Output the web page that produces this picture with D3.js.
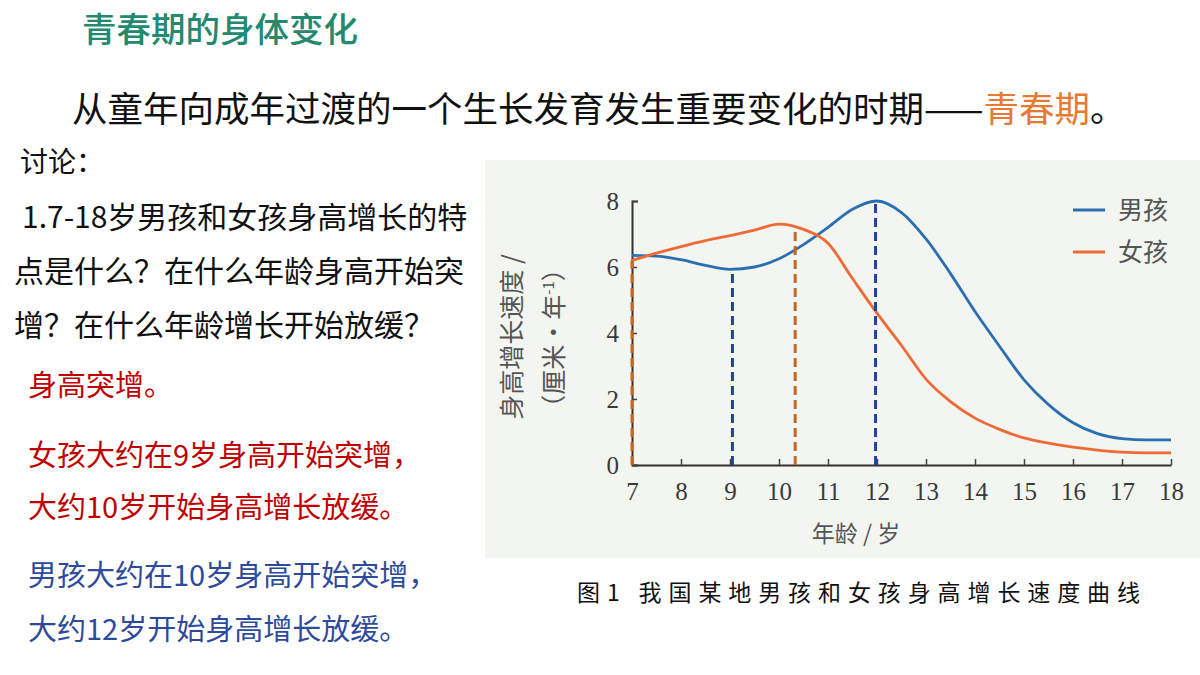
<!DOCTYPE html>
<html>
<head>
<meta charset="utf-8">
<script src="https://cdn.jsdelivr.net/npm/d3@7"></script>
<style>
  html, body { margin: 0; padding: 0; background: #fff; }
  svg { display: block; }
</style>
</head>
<body>
<svg width="1200" height="675"></svg>
<script>
// ages on the x axis
const AGES = [7, 7.5, 8, 8.5, 9, 9.5, 10, 10.5, 11, 11.5, 12, 12.5, 13, 13.5, 14, 14.5, 15, 15.5, 16, 16.5, 17, 17.5, 18];
// height growth speed (cm / year)
const BOYS = [6.35, 6.33, 6.22, 6.05, 5.93, 6.0, 6.25, 6.68, 7.2, 7.75, 8.0, 7.65, 6.85, 5.8, 4.65, 3.6, 2.58, 1.83, 1.28, 0.95, 0.8, 0.76, 0.76];
const GIRLS = [6.2, 6.42, 6.62, 6.8, 6.95, 7.12, 7.3, 7.14, 6.72, 5.65, 4.6, 3.62, 2.6, 1.92, 1.42, 1.08, 0.82, 0.66, 0.54, 0.45, 0.39, 0.37, 0.37];
const X_TICKS = [7, 8, 9, 10, 11, 12, 13, 14, 15, 16, 17, 18];
const Y_TICKS = [0, 2, 4, 6, 8];
const SERIES_NAMES = ['男孩', '女孩'];
// dashed guide lines: [series, age, value]
const GUIDES = [
  ['女孩', 7.0, 6.2],
  ['男孩', 9.05, 5.9],
  ['女孩', 10.33, 7.08],
  ['男孩', 11.97, 7.98]
];

const BLUE = '#2b6fb3';
const ORANGE = '#ee6a36';
const GUIDE_COLOR = { '男孩': '#23439b', '女孩': '#c8661f' };
const CJK = '"Noto Sans CJK SC", sans-serif';

const svg = d3.select('svg');

// ---- slide text ----
svg.append('text')
  .attr('x', 82).attr('y', 42)
  .attr('font-family', CJK).attr('font-size', 34.5).attr('font-weight', 500)
  .attr('fill', '#23896f')
  .text('青春期的身体变化');

const intro = svg.append('text')
  .attr('x', 72).attr('y', 122)
  .attr('font-family', CJK).attr('font-size', 35.5)
  .attr('fill', '#111');
intro.append('tspan').text('从童年向成年过渡的一个生长发育发生重要变化的时期——');
intro.append('tspan').attr('fill', '#e57a30').text('青春期');
intro.append('tspan').text('。');

const question = [
  { t: '讨论：', x: 20, y: 172, s: 28 },
  { t: '1.7-18岁男孩和女孩身高增长的特', x: 22, y: 228, s: 30 },
  { t: '点是什么？在什么年龄身高开始突', x: 14, y: 282, s: 30 },
  { t: '增？在什么年龄增长开始放缓？', x: 14, y: 336, s: 30 }
];
svg.selectAll('text.q').data(question).join('text')
  .attr('class', 'q')
  .attr('x', d => d.x).attr('y', d => d.y)
  .attr('font-family', CJK).attr('font-size', d => d.s)
  .attr('fill', '#111')
  .text(d => d.t);

const answers = [
  { t: '身高突增。', y: 396, c: '#c00000' },
  { t: '女孩大约在9岁身高开始突增，', y: 466, c: '#c00000' },
  { t: '大约10岁开始身高增长放缓。', y: 518, c: '#c00000' },
  { t: '男孩大约在10岁身高开始突增，', y: 586, c: '#2e4a9c' },
  { t: '大约12岁开始身高增长放缓。', y: 640, c: '#2e4a9c' }
];
svg.selectAll('text.a').data(answers).join('text')
  .attr('class', 'a')
  .attr('x', 28).attr('y', d => d.y)
  .attr('font-family', CJK).attr('font-size', 29)
  .attr('fill', d => d.c)
  .text(d => d.t);

// ---- chart panel ----
svg.append('rect')
  .attr('x', 485).attr('y', 160)
  .attr('width', 715).attr('height', 398)
  .attr('fill', '#f3f5f1');

const x = d3.scaleLinear().domain([7, 18]).range([632, 1171]);
const y = d3.scaleLinear().domain([0, 8]).range([465, 201]);

const g = svg.append('g');

// axes
const xAxis = g.append('g')
  .attr('transform', `translate(0, ${y(0)})`)
  .call(d3.axisBottom(x).tickValues(X_TICKS).tickSizeInner(-6).tickSizeOuter(0).tickPadding(17));
const yAxis = g.append('g')
  .attr('transform', `translate(${x(7)}, 0)`)
  .call(d3.axisLeft(y).tickValues(Y_TICKS).tickSizeInner(-5).tickSizeOuter(-6).tickPadding(13));

[xAxis, yAxis].forEach(a => {
  a.select('.domain').attr('stroke', '#333').attr('stroke-width', 2);
  a.selectAll('.tick line').attr('stroke', '#444').attr('stroke-width', 1.5);
  a.selectAll('.tick text')
    .attr('font-family', '"Liberation Serif", serif')
    .attr('font-size', 25)
    .attr('fill', '#3a3a3a');
});

// axis titles
g.append('text')
  .attr('x', 856).attr('y', 542)
  .attr('text-anchor', 'middle')
  .attr('font-family', CJK).attr('font-size', 23)
  .attr('fill', '#555')
  .text('年龄 / 岁');

g.append('text')
  .attr('transform', 'translate(521, 337) rotate(-90)')
  .attr('text-anchor', 'middle')
  .attr('font-family', CJK).attr('font-size', 25)
  .attr('fill', '#555')
  .text('身高增长速度 /');

const yl2 = g.append('text')
  .attr('transform', 'translate(563, 338) rotate(-90)')
  .attr('text-anchor', 'middle')
  .attr('font-family', CJK).attr('font-size', 25)
  .attr('fill', '#555');
yl2.append('tspan').text('（厘米·年');
yl2.append('tspan').attr('font-size', 15).attr('dy', -9).text('-1');
yl2.append('tspan').attr('dy', 9).text('）');

// curves
const line = d3.line()
  .x(d => x(d[0]))
  .y(d => y(d[1]))
  .curve(d3.curveMonotoneX);

const series = [
  { name: SERIES_NAMES[0], values: BOYS, color: BLUE },
  { name: SERIES_NAMES[1], values: GIRLS, color: ORANGE }
];

g.selectAll('path.curve').data(series).join('path')
  .attr('class', 'curve')
  .attr('fill', 'none')
  .attr('stroke', d => d.color)
  .attr('stroke-width', 2.8)
  .attr('d', d => line(AGES.map((a, i) => [a, d.values[i]])));

// dashed guides
g.selectAll('line.guide').data(GUIDES).join('line')
  .attr('class', 'guide')
  .attr('x1', d => x(d[1])).attr('x2', d => x(d[1]))
  .attr('y1', y(0)).attr('y2', d => y(d[2]))
  .attr('stroke', d => GUIDE_COLOR[d[0]])
  .attr('stroke-width', 3)
  .attr('stroke-dasharray', '9,5');

// legend
const legend = g.selectAll('g.legend').data(series).join('g')
  .attr('class', 'legend')
  .attr('transform', (d, i) => `translate(1073, ${210 + i * 42})`);
legend.append('line')
  .attr('x1', 0).attr('x2', 32)
  .attr('stroke', d => d.color)
  .attr('stroke-width', 3);
legend.append('text')
  .attr('x', 45).attr('dy', '0.36em')
  .attr('font-family', CJK).attr('font-size', 25)
  .attr('fill', '#555')
  .text(d => d.name);

// caption
svg.append('text')
  .attr('x', 577).attr('y', 601)
  .attr('font-family', CJK).attr('font-size', 23)
  .attr('fill', '#111')
  .attr('textLength', 563).attr('lengthAdjust', 'spacing')
  .text('图1 我国某地男孩和女孩身高增长速度曲线');
</script>
</body>
</html>
